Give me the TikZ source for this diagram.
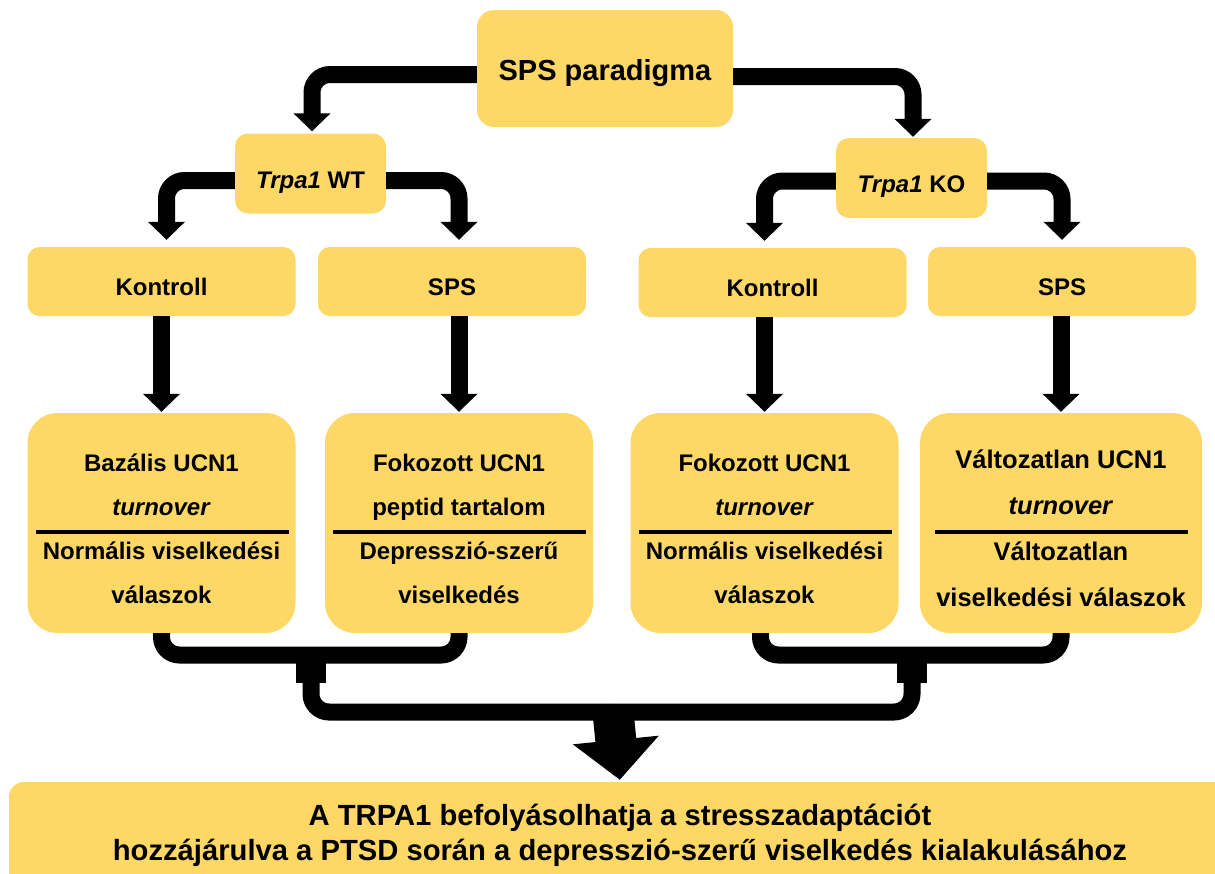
\documentclass[tikz,border=0pt]{standalone}
\usepackage{fontspec}
\setmainfont{Liberation Sans}
\usetikzlibrary{arrows.meta}
\definecolor{boxyellow}{HTML}{FED866}

\begin{document}
\begin{tikzpicture}
	[
		x=1pt, y=-1pt,
		every node/.style = {
			shape=rectangle, fill=boxyellow,
			align=center, font=\bfseries\fontsize{24}{44}\selectfont
		},
		top/.style = {rounded corners=17pt, minimum width=256pt, minimum height=117pt,
			font=\bfseries\fontsize{29}{35}\selectfont, text height=23pt, text depth=0pt},
		small/.style = {rounded corners=13pt, minimum width=151pt, minimum height=80pt,
			text height=29pt, text depth=0pt},
		group/.style = {rounded corners=12pt, minimum width=268pt, minimum height=69pt,
			text height=27pt, text depth=0pt},
		result/.style = {rounded corners=30pt, minimum width=268pt, minimum height=220pt,
			text height=160pt, text depth=0pt},
		final/.style = {rounded corners=15pt, minimum width=1222pt, minimum height=106pt,
			font=\bfseries\fontsize{29.2}{35}\selectfont},
		conn/.style = {line width=17pt, rounded corners=18pt,
			-{Triangle[width=36pt,length=18pt]}},
		bar/.style = {line width=17pt, rounded corners=18pt},
		divider/.style = {line width=3.5pt}
	]
	\path[use as bounding box, clip] (0,0) rectangle (1215,873);

	% boxes
	\node[top] (sps) at (605,68.5) {SPS paradigma};
	\node[small] (wt) at (310.5,173.5) {\textit{Trpa1} WT};
	\node[small] (ko) at (911.5,178) {\textit{Trpa1} KO};

	\node[group] (kl) at (161.5,281.5) {Kontroll};
	\node[group] (sl) at (452,281.5) {SPS};
	\node[group] (kr) at (772.5,282.5) {Kontroll};
	\node[group] (sr) at (1062,281.5) {SPS};

	\node[result] (r1) at (161.5,523) {Bazális UCN1\\\textit{turnover}\\Normális viselkedési\\válaszok};
	\node[result] (r2) at (459,523) {Fokozott UCN1\\peptid tartalom\\Depresszió-szerű\\viselkedés};
	\node[result] (r3) at (764.5,523) {Fokozott UCN1\\\textit{turnover}\\Normális viselkedési\\válaszok};
	\node[result, minimum width=282pt, text height=166pt,
		font=\bfseries\fontsize{25.5}{46}\selectfont] (r4) at (1061,523)
		{Változatlan UCN1\\\textit{turnover}\\Változatlan\\viselkedési válaszok};

	\node[final] (res) at (620,835)
		{A TRPA1 befolyásolhatja a stresszadaptációt\\hozzájárulva a PTSD során a depresszió-szerű viselkedés kialakulásához};

	\foreach \n in {r1,r2,r3,r4}
		\draw[divider] ([xshift=-126pt,yshift=-9pt]\n.center) -- ++(253,0);

	% arrows
	\draw[conn, shorten >=2pt] ([yshift=-6pt]sps.west) -| ([xshift=1.5pt]wt.north);
	\draw[conn, shorten >=1pt] ([yshift=-8pt]sps.east) -| ([xshift=1.5pt]ko.north);
	\draw[conn, shorten >=7pt] ([yshift=-7pt]wt.west) -| ([xshift=5pt]kl.north);
	\draw[conn, shorten >=7pt] ([yshift=-7pt]wt.east) -| (r2 |- sl.north);
	\draw[conn, shorten >=7pt] ([yshift=-3pt]ko.west) -| (r3 |- kr.north);
	\draw[conn, shorten >=7pt] ([yshift=-3pt]ko.east) -| (sr.north);
	\foreach \a/\b in {kl/r1,sl/r2,kr/r3,sr/r4}
		\draw[conn, shorten >=1pt] (\b |- \a.south) -- (\b.north);

	% merging
	\coordinate (jl) at (311,655);
	\coordinate (jr) at (912,655);
	\coordinate (hub) at (613,712);
	\draw[bar] (r1.south) |- (jl) -| (r2.south);
	\draw[bar] ([xshift=-4pt]r3.south) |- (jr) -| (r4.south);
	\draw[line width=30pt] (jl) -- ++(0,28);
	\draw[line width=30pt] (jr) -- ++(0,28);
	\draw[bar] (jl) |- (hub);
	\draw[bar] (jr) |- (hub);
	\draw[line width=41pt, shorten >=2pt, -{Triangle[width=84pt,length=40pt]}] (hub) -- (res.north);
\end{tikzpicture}
\end{document}
